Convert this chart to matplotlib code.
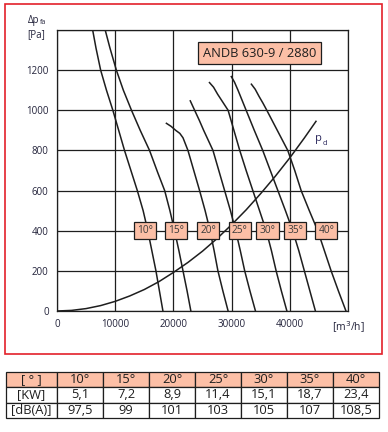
import matplotlib.pyplot as plt
from matplotlib.patches import Rectangle

plt.rcParams['font.family'] = ['Open Sans', 'DejaVu Sans']

# fan curves: flow [m3/h] vs static pressure [Pa]
curves = {
    "10°": ([6000, 6700, 7500, 8500, 9600, 10600, 11600, 12700, 13800, 14800, 15600, 16300, 17000, 17600, 18200],
            [1420, 1310, 1200, 1100, 1000, 900, 800, 700, 600, 500, 400, 300, 200, 100, 0]),
    "15°": ([8100, 9100, 10200, 11400, 12800, 14300, 15900, 17300, 18500, 19400, 20200, 20950, 21650, 22350, 23000],
            [1420, 1310, 1200, 1100, 1000, 900, 800, 690, 600, 500, 400, 300, 200, 100, 0]),
    "20°": ([18800, 19600, 20400, 21100, 21650, 22500, 23500, 24500, 25450, 26300, 27000, 27650, 28500, 29400],
            [935, 920, 900, 885, 863, 800, 700, 600, 500, 400, 300, 200, 100, 0]),
    "25°": ([22900, 23650, 24450, 25200, 26000, 26800, 27800, 28800, 29800, 30700, 31500, 32250, 33150, 34100],
            [1047, 1000, 950, 900, 850, 800, 700, 600, 500, 400, 300, 200, 100, 0]),
    "30°": ([26200, 26900, 27600, 28500, 29400, 30400, 31400, 32500, 33650, 34800, 35950, 36850, 37650, 38550, 39500],
            [1138, 1115, 1080, 1040, 1000, 900, 800, 700, 600, 500, 400, 300, 200, 100, 0]),
    "35°": ([29950, 30500, 31100, 31800, 32500, 33900, 35350, 36650, 37950, 39250, 40500, 41550, 42500, 43450, 44400],
            [1168, 1140, 1100, 1050, 1000, 900, 800, 700, 600, 500, 400, 300, 200, 100, 0]),
    "40°": ([33400, 34050, 34700, 35400, 36050, 37850, 39650, 40850, 41950, 43350, 44800, 45950, 47100, 48350, 49650],
            [1130, 1105, 1070, 1035, 1000, 900, 800, 700, 600, 500, 400, 300, 200, 100, 0]),
}
label_x = [15170, 20500, 26000, 31370, 36170, 40970, 46290]

# dynamic pressure line
pd_q = [0, 2500, 5000, 7500, 10000, 12500, 15000, 17500, 20000, 22500, 25000,
        27500, 30000, 32500, 35000, 37500, 40000, 42500, 44500]
pd_p = [0, 3, 12, 27, 48, 75, 107, 146, 192, 242, 298, 361, 430, 504, 585, 671, 763, 862, 945]

angles = ["10°", "15°", "20°", "25°", "30°", "35°", "40°"]
power_kw = ["5,1", "7,2", "8,9", "11,4", "15,1", "18,7", "23,4"]
noise_db = ["97,5", "99", "101", "103", "105", "107", "108,5"]

INK = '#1e1e1e'
TXT = '#22223a'
SALMON = '#fcbfa6'

fig = plt.figure(figsize=(3.88, 4.32), dpi=100)
fig.patches.append(Rectangle((5 / 388, 78 / 432), 377 / 388, 350 / 432,
                             transform=fig.transFigure, fill=False,
                             edgecolor='#e3202a', linewidth=1.2))

ax = fig.add_axes([57 / 388, 121 / 432, 291 / 388, 281 / 432])
ax.set_xlim(0, 50000)
ax.set_ylim(0, 1400)
ax.set_xticks([0, 10000, 20000, 30000, 40000, 50000])
ax.set_xticklabels(['0', '10000', '20000', '30000', '40000', ''])
ax.set_yticks([0, 200, 400, 600, 800, 1000, 1200, 1400])
ax.set_yticklabels(['0', '200', '400', '600', '800', '1000', '1200', ''])
ax.tick_params(length=0, labelsize=7, colors=TXT, pad=6)
ax.grid(True, color=INK, linewidth=0.9)
ax.set_axisbelow(True)
for s in ax.spines.values():
    s.set_color(INK)
    s.set_linewidth(0.9)

for name, (q, p) in curves.items():
    ax.plot(q, p, color=INK, linewidth=1.1, zorder=3)
ax.plot(pd_q, pd_p, color=INK, linewidth=1.1, zorder=3)

for name, x in zip(angles, label_x):
    ax.text(x, 400, name, ha='center', va='center', fontsize=7.3, color='#3a3a3a',
            zorder=5, bbox=dict(boxstyle='square,pad=0.3', fc=SALMON, ec=INK, lw=0.9))

ax.text(34800, 1285, 'ANDB 630-9 / 2880', ha='center', va='center', fontsize=9.3,
        color=INK, zorder=5,
        bbox=dict(boxstyle='square,pad=0.35', fc=SALMON, ec=INK, lw=0.9))

ax.text(44300, 860, 'p', fontsize=8, color='#2d2a5e', ha='left', va='center')
ax.text(45700, 835, 'd', fontsize=5.5, color='#2d2a5e', ha='left', va='center')

fig.text(28 / 388, 1 - 20 / 432, 'Δp', fontsize=7, color=TXT, ha='left', va='center')
fig.text(40 / 388, 1 - 22 / 432, 'fa', fontsize=5, color=TXT, ha='left', va='center')
fig.text(36 / 388, 1 - 35 / 432, '[Pa]', fontsize=7, color=TXT, ha='center', va='center')
fig.text(348 / 388, 1 - 327 / 432, '[m$^3$/h]', fontsize=7.5, color=TXT,
         ha='center', va='center')

# data table below the chart
tax = fig.add_axes([6 / 388, 14 / 432, 373 / 388, 46 / 432])
tax.axis('off')
cells = [["[ ° ]"] + angles, ["[KW]"] + power_kw, ["[dB(A)]"] + noise_db]
widths = [51 / 373] + [46 / 373] * 7
tbl = tax.table(cellText=cells, colWidths=widths, bbox=[0, 0, 1, 1], cellLoc='center')
tbl.auto_set_font_size(False)
for (r, c), cell in tbl.get_celld().items():
    cell.set_edgecolor(INK)
    cell.set_linewidth(0.9)
    cell.get_text().set_fontsize(9.3)
    cell.get_text().set_color(INK)
    if r == 0:
        cell.set_facecolor(SALMON)

fig.savefig('out.png', dpi=100)
